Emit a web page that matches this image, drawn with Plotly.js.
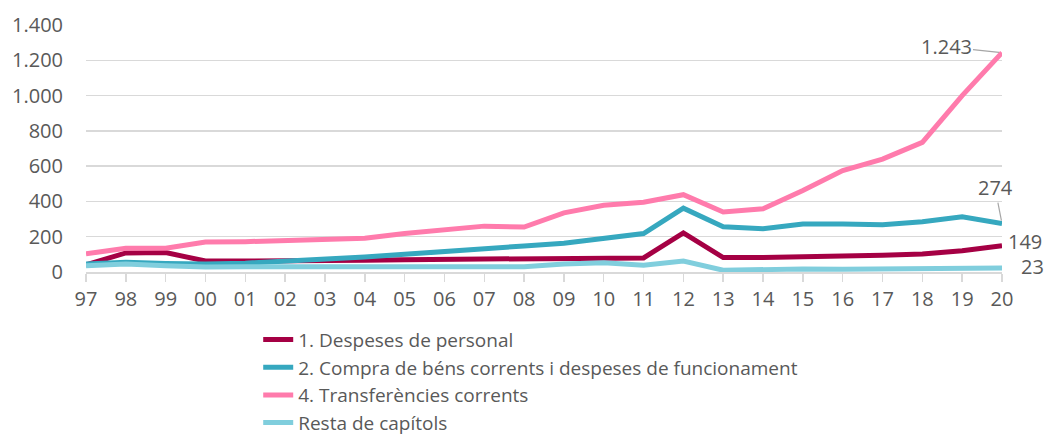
<!DOCTYPE html>
<html>
<head>
<meta charset="utf-8">
<script src="https://cdn.plot.ly/plotly-3.0.1.min.js"></script>
<style>html,body{margin:0;padding:0;background:#fff;}#chart{width:1046px;height:435px;}</style>
</head>
<body>
<div id="chart"></div>
<script>
const years = ["97","98","99","00","01","02","03","04","05","06","07","08","09","10","11","12","13","14","15","16","17","18","19","20"];
const personal = [40,108,110,62,62,62,65,67,70,72,75,77,82,82,80,222,82,82,85,90,95,102,120,149];
const compra = [45,55,48,45,50,60,72,85,100,118,133,148,163,190,218,362,256,245,272,272,268,285,313,274];
const transferencies = [103,135,135,170,172,180,187,192,218,242,260,255,335,378,395,438,340,358,462,575,640,735,1000,1243];
const resta = [35,45,35,28,30,30,32,28,28,30,32,30,45,52,38,62,10,15,17,15,17,18,20,23];
const seriesNames = ["1. Despeses de personal","2. Compra de béns corrents i despeses de funcionament","4. Transferències corrents","Resta de capítols"];
const colors = ["#a50044","#36a8bf","#ff7bac","#80cedd"];

const font = "'Open Sans', Lato, sans-serif";
const grey = "#595959";
const allSeries = [personal, compra, transferencies, resta];

const traces = allSeries.map((s,i)=>({
  x: years, y: s, type: "scatter", mode: "lines", name: seriesNames[i],
  line: {color: colors[i], width: 5}, hoverinfo: "skip"
}));

function fmt(v){ return v.toString().replace(/\B(?=(\d{3})+(?!\d))/g, "."); }
const last = years.length - 1;

const annotations = [
  {x: last, y: transferencies[last], text: fmt(transferencies[last]), showarrow: true, arrowhead: 0, arrowwidth: 1.2, arrowcolor: "#a6a6a6", ax: -56, ay: -6, standoff: 3, font: {family: font, size: 20, color: grey}},
  {x: last, y: compra[last], text: fmt(compra[last]), showarrow: true, arrowhead: 0, arrowwidth: 1.2, arrowcolor: "#a6a6a6", ax: -7, ay: -36, standoff: 3, font: {family: font, size: 20, color: grey}},
  {x: last, y: personal[last], text: fmt(personal[last]), showarrow: false, xanchor: "left", xshift: 4, yshift: 4, font: {family: font, size: 20, color: grey}},
  {x: last, y: resta[last], text: fmt(resta[last]), showarrow: false, xanchor: "left", xshift: 17, yshift: 1, font: {family: font, size: 20, color: grey}}
];

const layout = {
  width: 1046, height: 435,
  margin: {l: 86, r: 44, t: 25, b: 163, autoexpand: false},
  paper_bgcolor: "#fff", plot_bgcolor: "#fff",
  separators: ",.",
  showlegend: true,
  legend: {x: 0.188, y: -0.197, xanchor: "left", yanchor: "top", orientation: "v",
    font: {family: font, size: 19, color: grey}, itemwidth: 30, tracegroupgap: 0, bgcolor: "rgba(0,0,0,0)"},
  xaxis: {
    type: "category", range: [0, years.length - 1],
    showgrid: false, zeroline: false,
    showline: true, linecolor: "#d9d9d9", linewidth: 1.5,
    ticks: "outside", ticklen: 8, tickcolor: "#d9d9d9", tickwidth: 1.5,
    tickfont: {family: font, size: 20, color: grey}, fixedrange: true
  },
  yaxis: {
    range: [0, 1400], dtick: 200, tickformat: ",d",
    showgrid: true, gridcolor: "#d9d9d9", gridwidth: 1.5,
    zeroline: false, showline: false,
    ticklabelstandoff: 22,
    tickfont: {family: font, size: 20, color: grey}, fixedrange: true
  },
  annotations: annotations
};

Plotly.newPlot("chart", traces, layout, {displayModeBar: false, staticPlot: true});
</script>
</body>
</html>
